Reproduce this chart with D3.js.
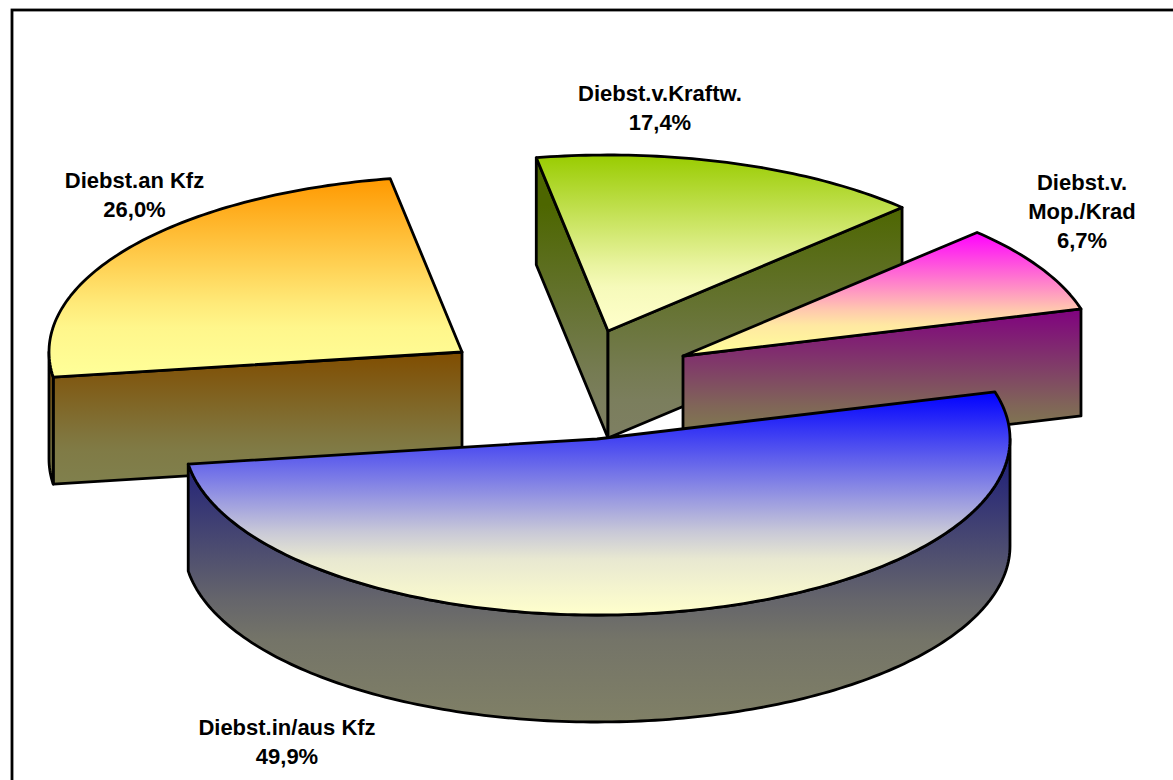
<!DOCTYPE html>
<html>
<head>
<meta charset="utf-8">
<script src="https://d3js.org/d3.v7.min.js"></script>
<style>
  html, body { margin: 0; padding: 0; background: #fff; overflow: hidden; }
  svg { display: block; }
  text { font-family: "Liberation Sans", Arial, sans-serif; font-weight: bold; font-size: 22px; fill: #000; }
</style>
</head>
<body>
<svg width="1173" height="780"></svg>
<script>
var categories = ["Diebst.in/aus Kfz", "Diebst.an Kfz", "Diebst.v.Kraftw.", "Diebst.v.\nMop./Krad"];
var shares = [49.9, 26.0, 17.4, 6.7];

// colours: top surface fades from first to second, walls are the half-dark version
var topColors = ["#0000ff", "#ff9900", "#99cc00", "#ff00ff"];
var fadeColors = ["#ffffcc", "#ffff99", "#ffffcc", "#ffff99"];

// layout
var sliceCenters = [[597, 439], [462, 352], [608, 331], [683, 356]];
var wallRanges = [[392, 722], [352, 484], [205, 465], [308, 463]];
var labelAnchors = [[287, 735], [134.5, 188], [660, 101], [1082, 190]];

// screen angle of the slice borders (the tilt squeezes the true angles)
var rimAngles = [74.5, 261.8, 350, 405.4, 434.5];

// the fades are not linear: [position, amount of second colour]
var fadeStops = [[0, 0], [0.63, 0.79], [0.75, 0.91], [1, 1]];

var rx = 413, ry = 176, depth = 107, lineHeight = 29, strokeWidth = 2.8;
var drawOrder = [1, 2, 3, 0];

var svg = d3.select("svg");
var defs = svg.append("defs");

svg.append("rect")
    .attr("x", 12)
    .attr("y", 10)
    .attr("width", 1300)
    .attr("height", 900)
    .attr("fill", "#fff")
    .attr("stroke", "#000")
    .attr("stroke-width", strokeWidth);

var pie = d3.pie().sort(null).value(function(d) { return d; });
var arcs = pie(shares);

var borders = arcs.map(function(d) { return d.startAngle; });
borders.push(arcs[arcs.length - 1].endAngle);

var toScreen = d3.scaleLinear().domain(borders).range(rimAngles);
var xScale = d3.scaleLinear().domain([-1, 1]).range([-rx, rx]);
var yScale = d3.scaleLinear().domain([-1, 1]).range([ry, -ry]);
var line = d3.line();

function rimPoint(c, deg, z) {
  var t = deg * Math.PI / 180;
  return [c[0] + xScale(Math.sin(t)), c[1] + yScale(Math.cos(t)) + z];
}

function rimPoints(c, from, to, z) {
  var n = Math.max(2, Math.ceil(Math.abs(to - from)));
  return d3.range(n + 1).map(function(i) {
    return rimPoint(c, from + (to - from) * i / n, z);
  });
}

function gradient(id, y1, y2, c1, c2) {
  var mix = d3.interpolateRgb(c1, c2);
  var g = defs.append("linearGradient")
      .attr("id", id)
      .attr("gradientUnits", "userSpaceOnUse")
      .attr("x1", 0).attr("x2", 0)
      .attr("y1", y1).attr("y2", y2);
  fadeStops.forEach(function(s) {
    g.append("stop").attr("offset", s[0]).attr("stop-color", mix(s[1]));
  });
}

function halfDark(color) {
  var c = d3.rgb(color);
  return d3.rgb(c.r / 2, c.g / 2, c.b / 2).formatHex();
}

function face(parent, points, fill) {
  parent.append("path")
      .attr("d", line(points) + "Z")
      .attr("fill", fill)
      .attr("stroke", "#000")
      .attr("stroke-width", strokeWidth)
      .attr("stroke-linejoin", "round");
}

function sinDeg(a) {
  return Math.sin(a * Math.PI / 180);
}

drawOrder.forEach(function(i) {
  var d = arcs[i];
  var c = sliceCenters[i];
  var from = toScreen(d.startAngle);
  var to = toScreen(d.endAngle);
  var g = svg.append("g").attr("class", "slice");

  var rim = rimPoints(c, from, to, 0);
  var top = [c].concat(rim);
  var yTop = d3.min(top, function(p) { return p[1]; });
  var yBottom = d3.max(top, function(p) { return p[1]; });

  gradient("top" + i, yTop, yBottom, topColors[i], fadeColors[i]);
  gradient("wall" + i, wallRanges[i][0], wallRanges[i][1], halfDark(topColors[i]), halfDark(fadeColors[i]));
  var wall = "url(#wall" + i + ")";

  // cut faces, only those turned towards the viewer
  [[from, sinDeg(from) < 0], [to, sinDeg(to) > 0]].forEach(function(cut) {
    if (!cut[1]) return;
    var p = rimPoint(c, cut[0], 0);
    var low = [c[0], c[1] + depth];
    face(g, [c, p, [p[0], p[1] + depth], low], wall);
  });

  // outer wall, only the front half of the ellipse shows
  var a0 = Math.max(from, 90), a1 = Math.min(to, 270);
  if (a1 > a0) {
    var upper = rimPoints(c, a0, a1, 0);
    var lower = rimPoints(c, a1, a0, depth);
    face(g, upper.concat(lower), wall);
  }

  face(g, top, "url(#top" + i + ")");
});

var labels = svg.append("g").attr("class", "labels");

categories.forEach(function(name, i) {
  var rows = name.split("\n").concat([d3.format(".1f")(shares[i]).replace(".", ",") + "%"]);
  rows.forEach(function(row, k) {
    labels.append("text")
        .attr("x", labelAnchors[i][0])
        .attr("y", labelAnchors[i][1] + k * lineHeight)
        .attr("text-anchor", "middle")
        .text(row);
  });
});
</script>
</body>
</html>
